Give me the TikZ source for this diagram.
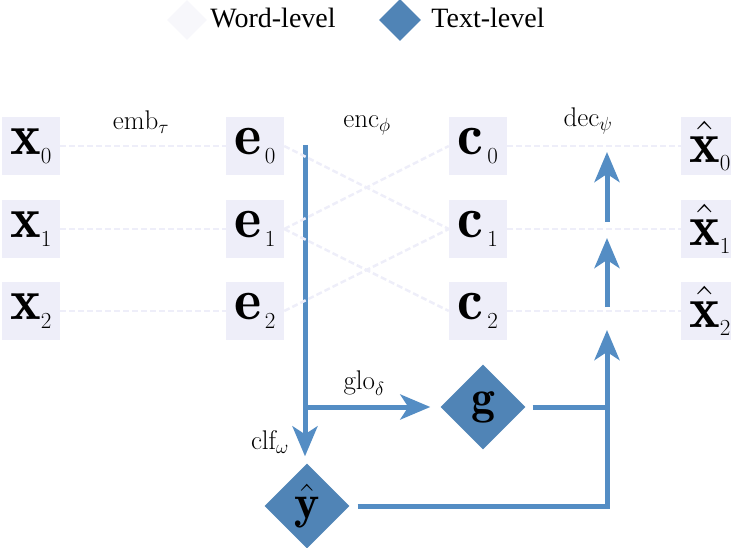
\RequirePackage{fix-cm}
\documentclass[tikz,border=0pt]{standalone}
\usepackage{fontspec}
\newfontfamily\legendfont{Liberation Serif}
\usetikzlibrary{shapes.geometric,arrows.meta}
\DeclareMathSizes{58}{58}{23}{18}
\DeclareMathSizes{48}{48}{30}{20}
\DeclareMathSizes{27}{27}{19}{14}
\definecolor{tblue}{RGB}{80,132,182}
\definecolor{ablue}{RGB}{84,141,196}
\definecolor{wbg}{RGB}{238,238,249}
\definecolor{wline}{RGB}{238,238,249}
\definecolor{wlegend}{RGB}{247,247,251}
\tikzset{
  word/.style={fill=wbg, minimum size=58pt, inner sep=0pt, font=\fontsize{58}{58}\selectfont},
  textlvl/.style={diamond, aspect=1, fill=tblue, minimum size=85pt, inner sep=0pt, font=\fontsize{48}{48}\selectfont},
  lab/.style={font=\fontsize{27}{27}\selectfont, inner sep=0pt},
  legtext/.style={font=\legendfont\fontsize{28}{28}\selectfont, inner sep=0pt},
  faint/.style={draw=wline, line width=2.5pt, dash pattern=on 6pt off 3pt},
  blueline/.style={draw=ablue, line width=5pt},
  barrow/.style={blueline, -{Stealth[length=30pt,width=25pt,inset=8pt]}},
}
\begin{document}
\begin{tikzpicture}[x=1pt,y=-1pt]
\useasboundingbox (0,0) rectangle (731,548);
% legend
\node[diamond, aspect=1, fill=wlegend, minimum size=40pt, inner sep=0pt] (lw) at (187,20) {};
\node[legtext] (lwt) at (273,18) {Word-level};
\node[diamond, aspect=1, fill=tblue, minimum size=42pt, inner sep=0pt] (lt) at (400,20) {};
\node[legtext] (ltt) at (488,18) {Text-level};
% word-level nodes
\node[word] (x0) at (31,146) {$\mathbf{x}_0$};
\node[word] (x1) at (31,229) {$\mathbf{x}_1$};
\node[word] (x2) at (31,311) {$\mathbf{x}_2$};
\node[word] (e0) at (255,146) {$\mathbf{e}_{\,0}$};
\node[word] (e1) at (255,229) {$\mathbf{e}_{\,1}$};
\node[word] (e2) at (255,311) {$\mathbf{e}_{\,2}$};
\node[word] (c0) at (478,146) {$\mathbf{c}_{\,0}$};
\node[word] (c1) at (478,229) {$\mathbf{c}_{\,1}$};
\node[word] (c2) at (478,311) {$\mathbf{c}_{\,2}$};
\node[word] (h0) at (710,146) {$\hat{\mathbf{x}}_0$};
\node[word] (h1) at (710,229) {$\hat{\mathbf{x}}_1$};
\node[word] (h2) at (710,311) {$\hat{\mathbf{x}}_2$};
% labels
\node[lab] (lemb) at (141,122) {$\mathrm{emb}_\tau$};
\node[lab] (lenc) at (367,125) {$\mathrm{enc}_\phi$};
\node[lab] (ldec) at (588,121) {$\mathrm{dec}_\psi$};
\node[lab] (lglo) at (364,383) {$\mathrm{glo}_\delta$};
\node[lab] (lclf) at (270,442) {$\mathrm{clf}_\omega$};
% text-level nodes
\node[textlvl] (g) at (483,407) {$\mathbf{g}$};
\node[textlvl] (y) at (307,506) {$\hat{\mathbf{y}}$};
% coordinates
\coordinate (top) at (305,145);
\coordinate (br) at (305,407);
\coordinate (d2) at (607,330);
\coordinate (d2s) at (607,307);
\coordinate (d1) at (607,238);
\coordinate (d1s) at (607,222);
\coordinate (d0) at (607,152);
% blue connectors
\draw[barrow, shorten >=7pt] (top) -- (top |- y.north);
\draw[barrow, shorten >=10pt] (br) -- (g.west);
\draw[barrow, shorten <=8pt] (y.east) -| (d2);
\draw[blueline, shorten <=7pt] (g.east) -- (g.east -| d2);
\draw[barrow] (d2s) -- (d1);
\draw[barrow] (d1s) -- (d0);
% faint word-level connectors
\draw[faint] (x0) -- (e0);
\draw[faint] (x1) -- (e1);
\draw[faint] (x2) -- (e2);
\draw[faint] (e0.east) -- (c1.west);
\draw[faint] (e1.east) -- (c0.west);
\draw[faint] (e1.east) -- (c2.west);
\draw[faint] (e2.east) -- (c1.west);
\draw[faint] (c0) -- (h0);
\draw[faint] (c1) -- (h1);
\draw[faint] (c2) -- (h2);
\end{tikzpicture}
\end{document}
